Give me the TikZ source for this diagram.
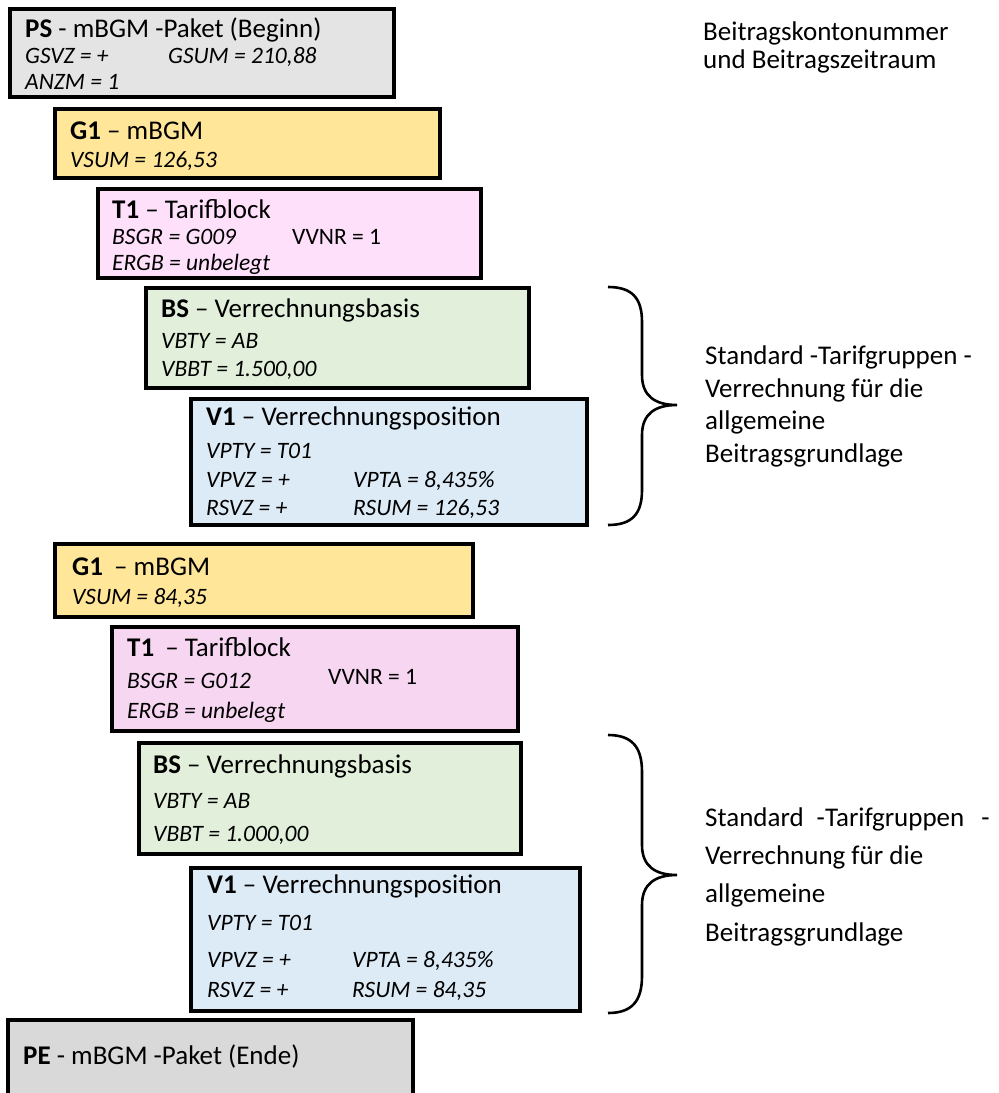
\documentclass[tikz,border=0pt]{standalone}
\usepackage{fontspec}
\setmainfont{Carlito}
\definecolor{cPS}{HTML}{E4E4E4}
\definecolor{cG}{HTML}{FFE699}
\definecolor{cTa}{HTML}{FEE0FA}
\definecolor{cTb}{HTML}{F7D6F1}
\definecolor{cBS}{HTML}{E2EFDA}
\definecolor{cV}{HTML}{DDEBF7}
\definecolor{cPE}{HTML}{D9D9D9}
\newcommand\bx[6]{\node[boxst,fill=#6,minimum width={(#4-#2)*1pt},minimum height={(#5-#3)*1pt}] (#1) at (#2,-#3) {};}
\newcommand\ttl[4]{\node[ttlst] (#1) at (#2,-#3) {#4};}
\newcommand\itx[4]{\node[itxst] (#1) at (#2,-#3) {#4};}
\newcommand\ann[4]{\node[annst] (#1) at (#2,-#3) {#4};}
\begin{document}
\begin{tikzpicture}[x=1pt,y=1pt,
  boxst/.style={draw=black,line width=4pt,anchor=north west,inner sep=0pt,outer sep=0pt},
  ttlst/.style={anchor=base west,inner sep=0pt,font=\fontsize{27}{31}\selectfont},
  itxst/.style={anchor=base west,inner sep=0pt,font=\fontsize{23.5}{28}\selectfont\itshape},
  annst/.style={anchor=base west,inner sep=0pt,font=\fontsize{27}{31}\selectfont},
  bracest/.style={draw=black,line width=2.6pt}]
\useasboundingbox (0,0) rectangle (999,-1093);
\begin{scope}
\clip (0,0) rectangle (999,-1093);
% boxes
\bx{ps}{10}{9}{394}{97}{cPS}
\bx{ga}{55}{109}{440}{178}{cG}
\bx{ta}{98}{189}{481}{278}{cTa}
\bx{ba}{146}{288}{529}{388}{cBS}
\bx{va}{191}{399}{587}{525}{cV}
\bx{gb}{55}{544}{473}{617}{cG}
\bx{tb}{112}{627}{518}{731}{cTb}
\bx{bb}{139}{743}{521}{854}{cBS}
\bx{vb}{191}{868}{580}{1011}{cV}
\bx{pe}{8}{1020}{413}{1110}{cPE}
\end{scope}
% PS
\ttl{ps1}{25}{37}{\textbf{PS} - mBGM -Paket (Beginn)}
\itx{ps2}{25}{63}{GSVZ = +}
\itx{ps3}{168}{63}{GSUM = 210,88}
\itx{ps4}{25}{89}{ANZM = 1}
% G1 a
\ttl{ga1}{70}{139}{\textbf{G1} -- mBGM}
\itx{ga2}{70}{167}{VSUM = 126,53}
% T1 a
\ttl{ta1}{112}{218}{\textbf{T1} -- Tarifblock}
\itx{ta2}{112}{244}{BSGR = G009}
\node[annst,font=\fontsize{23.5}{28}\selectfont] (ta3) at (292,-244) {VVNR = 1};
\itx{ta4}{112}{270}{ERGB = unbelegt}
% BS a
\ttl{ba1}{161}{317}{\textbf{BS} -- Verrechnungsbasis}
\itx{ba2}{161}{348}{VBTY = AB}
\itx{ba3}{161}{376}{VBBT = 1.500,00}
% V1 a
\ttl{va1}{206}{425}{\textbf{V1} -- Verrechnungsposition}
\itx{va2}{206}{458}{VPTY = T01}
\itx{va3}{206}{487}{VPVZ = +}
\itx{va4}{353}{487}{VPTA = 8,435\%}
\itx{va5}{206}{515}{RSVZ = +}
\itx{va6}{353}{515}{RSUM = 126,53}
% G1 b
\ttl{gb1}{72}{575}{\textbf{G1}\hspace{5pt} -- mBGM}
\itx{gb2}{72}{604}{VSUM = 84,35}
% T1 b
\ttl{tb1}{127}{656}{\textbf{T1}\hspace{5pt} -- Tarifblock}
\itx{tb2}{127}{688}{BSGR = G012}
\node[annst,font=\fontsize{23.5}{28}\selectfont] (tb3) at (328,-684) {VVNR = 1};
\itx{tb4}{127}{718}{ERGB = unbelegt}
% BS b
\ttl{bb1}{153}{773}{\textbf{BS} -- Verrechnungsbasis}
\itx{bb2}{153}{808}{VBTY = AB}
\itx{bb3}{153}{841}{VBBT = 1.000,00}
% V1 b
\ttl{vb1}{207}{893}{\textbf{V1} -- Verrechnungsposition}
\itx{vb2}{207}{930}{VPTY = T01}
\itx{vb3}{207}{967}{VPVZ = +}
\itx{vb4}{352}{967}{VPTA = 8,435\%}
\itx{vb5}{207}{997}{RSVZ = +}
\itx{vb6}{352}{997}{RSUM = 84,35}
% PE
\ttl{pe1}{23}{1064}{\textbf{PE} - mBGM -Paket (Ende)}
% annotations
\ann{an1}{703}{40}{Beitragskontonummer}
\ann{an2}{703}{68}{und Beitragszeitraum}
\ann{b1a}{705}{364}{Standard -Tarifgruppen -}
\ann{b1b}{705}{397}{Verrechnung für die}
\ann{b1c}{705}{429}{allgemeine}
\ann{b1d}{705}{462}{Beitragsgrundlage}
\ann{b2a}{705}{826}{Standard\hspace{13pt}-Tarifgruppen\hspace{17pt}-}
\ann{b2b}{705}{864}{Verrechnung für die}
\ann{b2c}{705}{902}{allgemeine}
\ann{b2d}{705}{941}{Beitragsgrundlage}
% braces
\draw[bracest] (608,-287) .. controls (632,-287) and (642,-298) .. (642,-322)
  -- (642,-375) .. controls (642,-396) and (655,-405) .. (677,-405)
  .. controls (655,-405) and (642,-414) .. (642,-435)
  -- (642,-490) .. controls (642,-514) and (632,-525) .. (608,-525);
\draw[bracest] (608,-735) .. controls (632,-735) and (642,-747) .. (642,-772)
  -- (642,-845) .. controls (642,-866) and (655,-875) .. (677,-875)
  .. controls (655,-875) and (642,-884) .. (642,-905)
  -- (642,-976) .. controls (642,-1001) and (632,-1013) .. (608,-1013);
\end{tikzpicture}
\end{document}
